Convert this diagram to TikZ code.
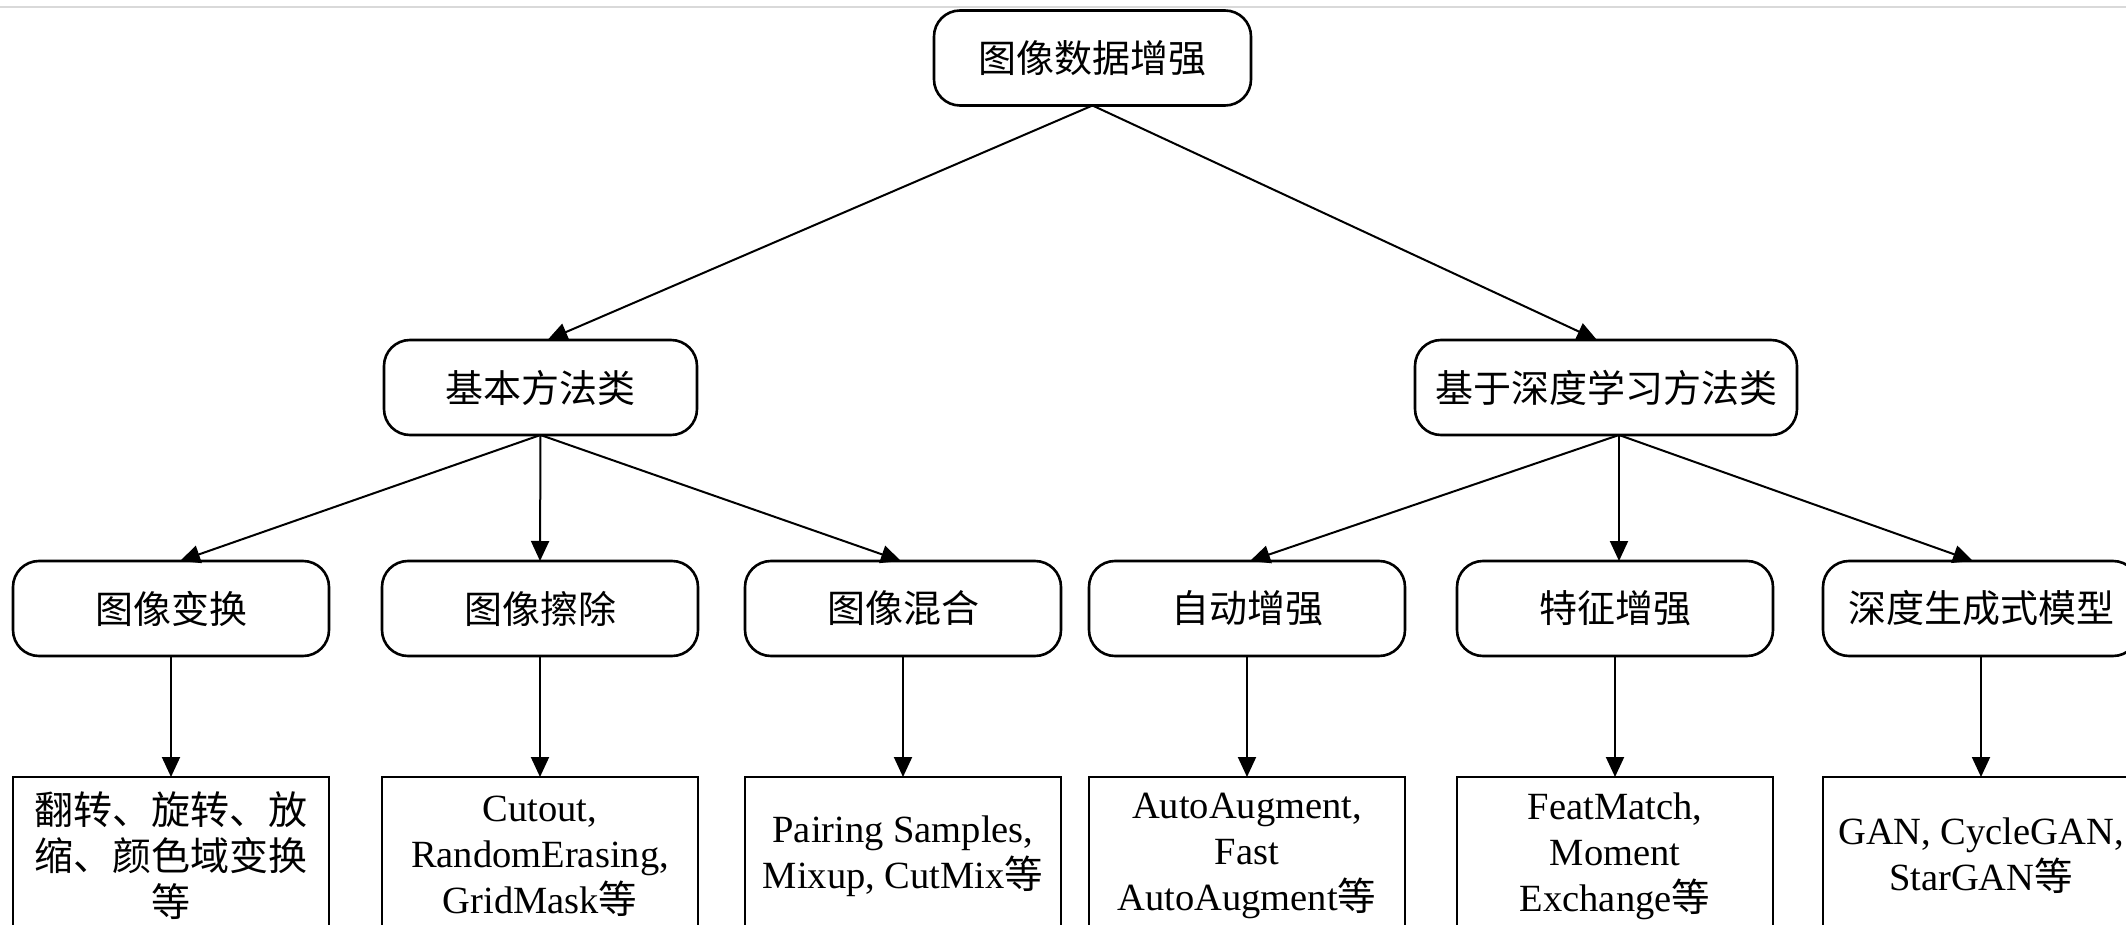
\documentclass[tikz,border=0pt]{standalone}
\usepackage{fontspec}
\setmainfont{Liberation Serif}
\newfontfamily\cjkfont{Noto Sans CJK SC}
\usetikzlibrary{arrows.meta}
\newcommand{\zh}[1]{{\cjkfont #1}}

\begin{document}
\begin{tikzpicture}[x=1pt,y=-1pt,
  every node/.style={inner sep=0pt, outer sep=0pt},
  catbox/.style={draw=black, line width=2.6pt, rounded corners=26pt,
    minimum height=95pt, minimum width=316pt, fill=white,
    font=\cjkfont\fontsize{38}{46}\selectfont},
  leafbox/.style={draw=black, line width=2.6pt, minimum width=316pt,
    minimum height=158pt, align=center,
    font=\fontsize{38.5}{46}\selectfont},
  link/.style={line width=2pt, -{Triangle[length=20pt,width=18pt]}}]

\useasboundingbox (0,0) rectangle (2126,925);

% thin rule along the upper edge
\draw[black!15, line width=2pt] (0,7) -- (2126,7);

% root and first level
\node[catbox, minimum width=317pt] (root)  at (1092.5,58)  {图像数据增强};
\node[catbox, minimum width=313pt] (basic) at (540.5,387.5) {基本方法类};
\node[catbox, minimum width=382pt] (deep)  at (1606,387.5)  {基于深度学习方法类};

% second level
\node[catbox] (t1) at (171,608.5)  {图像变换};
\node[catbox] (t2) at (540,608.5)  {图像擦除};
\node[catbox] (t3) at (903,608.5)  {图像混合};
\node[catbox] (t4) at (1247,608.5) {自动增强};
\node[catbox] (t5) at (1615,608.5) {特征增强};
\node[catbox] (t6) at (1981,608.5) {深度生成式模型};

% leaves (their lower edges run past the page)
\node[leafbox, font=\cjkfont\fontsize{39}{46}\selectfont] (b1) at (171,856)
  {翻转、旋转、放\\缩、颜色域变换\\等};
\node[leafbox] (b2) at (540,856)  {Cutout,\\RandomErasing,\\GridMask\zh{等}};
\node[leafbox] (b3) at (903,856)  {Pairing Samples,\\Mixup, CutMix\zh{等}};
\node[leafbox] (b4) at (1247,856) {AutoAugment,\\Fast\\AutoAugment\zh{等}};
\node[leafbox] (b5) at (1615,856) {FeatMatch,\\Moment\\Exchange\zh{等}};
\node[leafbox] (b6) at (1981,856) {GAN, CycleGAN,\\StarGAN\zh{等}};

% connectors
\draw[link] (root.south) -- ([xshift=7pt]basic.north);
\draw[link] (root.south) -- ([xshift=-9pt]deep.north);

\draw[link] (basic.south) -- ([xshift=9pt]t1.north);
\draw[link] (basic.south) -- (t2.north);
\draw[link] (basic.south) -- ([xshift=-2pt]t3.north);

\draw[link] ([xshift=13pt]deep.south) -- ([xshift=3pt]t4.north);
\draw[link] ([xshift=13pt]deep.south) -- ([xshift=4pt]t5.north);
\draw[link] ([xshift=13pt]deep.south) -- ([xshift=-8pt]t6.north);

\foreach \i in {1,...,6}
  \draw[link] (t\i.south) -- (b\i.north);

\end{tikzpicture}
\end{document}
